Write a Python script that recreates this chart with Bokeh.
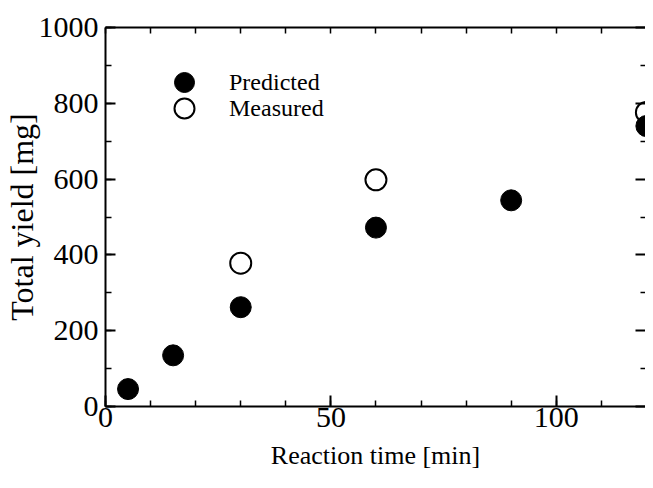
from bokeh.plotting import figure
from bokeh.models import (LinearAxis, Range1d, SingleIntervalTicker, FixedTicker,
                          Legend, LegendItem, ColumnDataSource)
from bokeh.embed import file_html
from bokeh.resources import INLINE

# ---- data ----
time_pred = [5, 15, 30, 60, 90, 120]
yield_pred = [46, 135, 262, 472, 544, 740]
time_meas = [30, 60, 120]
yield_meas = [378, 598, 776]
series_names = ["Predicted", "Measured"]
x_label = "Reaction time [min]"
y_label = "Total yield [mg]"
x_tick_interval = 50
x_minor_interval = 10
y_tick_interval = 200
y_minor_interval = 100
x_max = 120
y_max = 1000

FONT = "Liberation Serif"

p = figure(width=645, height=480,
           x_range=Range1d(0, 119.8), y_range=Range1d(0, y_max),
           output_backend="svg", toolbar_location=None,
           min_border_left=105, min_border_right=0,
           min_border_top=27, min_border_bottom=74,
           x_axis_location=None, y_axis_location=None)
p.grid.visible = False
p.outline_line_color = None
p.background_fill_color = "white"
p.border_fill_color = "white"


def base_style(ax):
    ax.axis_line_color = "black"
    ax.axis_line_width = 2
    ax.major_tick_out = 0
    ax.minor_tick_out = 0
    ax.major_tick_line_color = "black"
    ax.major_tick_line_width = 2
    ax.minor_tick_line_color = "black"
    ax.minor_tick_line_width = 1.5
    ax.major_label_text_font = FONT
    ax.major_label_text_color = "black"
    ax.axis_label_text_font = FONT
    ax.axis_label_text_font_style = "normal"
    ax.axis_label_text_color = "black"


x_minor_pos = list(range(0, x_max + 1, x_minor_interval))
y_major_pos = list(range(0, y_max + 1, y_tick_interval))
y_minor_pos = [v for v in range(0, y_max + 1, y_minor_interval) if v not in y_major_pos]

# bottom axis
bottom = LinearAxis(axis_label=x_label,
                    ticker=SingleIntervalTicker(interval=x_tick_interval, num_minor_ticks=5))
base_style(bottom)
bottom.major_tick_in = 11
bottom.minor_tick_in = 6
bottom.major_label_text_font_size = "30px"
bottom.major_label_standoff = 1
bottom.axis_label_text_font_size = "26px"
bottom.axis_label_standoff = 11
p.add_layout(bottom, "below")

# left axis
left = LinearAxis(axis_label=y_label,
                  ticker=SingleIntervalTicker(interval=y_tick_interval, num_minor_ticks=2))
base_style(left)
left.major_tick_in = 10
left.minor_tick_in = 6
left.major_label_text_font_size = "30px"
left.major_label_standoff = 7
left.axis_label_text_font_size = "32px"
left.axis_label_standoff = -4
p.add_layout(left, "left")

# top axis: ticks only
top = LinearAxis(ticker=FixedTicker(ticks=[], minor_ticks=x_minor_pos))
base_style(top)
top.minor_tick_in = 6
top.major_label_standoff = 0
p.add_layout(top, "above")

# right edge: ticks only (frame edge itself is cut off in the reference)
right_major = LinearAxis(ticker=FixedTicker(ticks=[], minor_ticks=y_major_pos))
base_style(right_major)
right_major.axis_line_color = None
right_major.minor_tick_in = 10
right_major.minor_tick_line_width = 2
right_major.major_label_standoff = 0
p.add_layout(right_major, "right")

right_minor = LinearAxis(ticker=FixedTicker(ticks=[], minor_ticks=y_minor_pos))
base_style(right_minor)
right_minor.axis_line_color = None
right_minor.minor_tick_in = 5
right_minor.major_label_standoff = 0
p.add_layout(right_minor, "right")

src_pred = ColumnDataSource(dict(x=time_pred, y=yield_pred))
src_meas = ColumnDataSource(dict(x=time_meas, y=yield_meas))

r_meas = p.scatter("x", "y", source=src_meas, size=21, marker="circle",
                   fill_color="white", line_color="black", line_width=2)
r_pred = p.scatter("x", "y", source=src_pred, size=21, marker="circle",
                   fill_color="black", line_color="black", line_width=1)


def make_legend(name, renderer, vy):
    return Legend(items=[LegendItem(label=name, renderers=[renderer])],
                  location=(54, vy), margin=0, padding=0,
                  glyph_width=50, glyph_height=50,
                  label_standoff=20, label_text_font=FONT,
                  label_text_font_size="24px", label_text_color="black",
                  border_line_color=None, background_fill_alpha=0)


p.add_layout(make_legend(series_names[0], r_pred, 299))
p.add_layout(make_legend(series_names[1], r_meas, 273))

open("out.html", "w").write(file_html(p, INLINE))
